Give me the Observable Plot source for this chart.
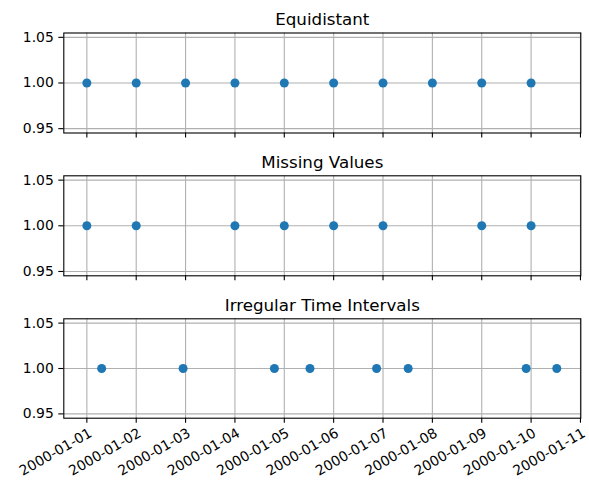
<!DOCTYPE html>
<html>
<head>
<meta charset="utf-8">
<script src="https://cdn.jsdelivr.net/npm/d3@7"></script>
<script src="https://cdn.jsdelivr.net/npm/@observablehq/plot@0.6"></script>
<style>
  html, body { margin: 0; padding: 0; background: white; }
  #chart svg { display: block; }
</style>
</head>
<body>
<div id="chart"></div>
<script>
// ---- data ----
const titles = ["Equidistant", "Missing Values", "Irregular Time Intervals"];

const equidistantDates = ["2000-01-01", "2000-01-02", "2000-01-03", "2000-01-04", "2000-01-05",
                          "2000-01-06", "2000-01-07", "2000-01-08", "2000-01-09", "2000-01-10"];
const equidistantValues = [1, 1, 1, 1, 1, 1, 1, 1, 1, 1];

const missingDates = ["2000-01-01", "2000-01-02", "2000-01-03", "2000-01-04", "2000-01-05",
                      "2000-01-06", "2000-01-07", "2000-01-08", "2000-01-09", "2000-01-10"];
const missingValues = [1, 1, null, 1, 1, 1, 1, null, 1, 1];

const irregularDates = ["2000-01-01T07:12", "2000-01-02T22:48", "2000-01-04T19:12", "2000-01-05T12:29",
                        "2000-01-06T20:53", "2000-01-07T12:14", "2000-01-09T21:36", "2000-01-10T12:29"];
const irregularValues = [1, 1, 1, 1, 1, 1, 1, 1];

const xTickLabels = ["2000-01-01", "2000-01-02", "2000-01-03", "2000-01-04", "2000-01-05", "2000-01-06",
                     "2000-01-07", "2000-01-08", "2000-01-09", "2000-01-10", "2000-01-11"];
const yTicks = [0.95, 1.00, 1.05];

// ---- helpers ----
const parse = s => new Date((s.length === 10 ? s + "T00:00" : s) + ":00Z");
const DAY = 864e5;
const xTicks = xTickLabels.map(parse);
const xDomain = [new Date(+parse("2000-01-01") - 0.467 * DAY), new Date(+parse("2000-01-11") + 0.007 * DAY)];
const yDomain = [0.94525, 1.05475];
const fmtDate = d3.utcFormat("%Y-%m-%d");

function panel({dates, values, title, height, marginTop, marginBottom, labels}) {
  const data = dates.map((d, i) => ({date: parse(d), value: values[i]}));
  return Plot.plot({
    width: 589,
    height,
    marginLeft: 63.3,
    marginRight: 8.7,
    marginTop,
    marginBottom,
    style: {fontFamily: "'DejaVu Sans', sans-serif", fontSize: "13.9px", color: "black", background: "white", overflow: "visible"},
    x: {type: "utc", domain: xDomain, axis: null},
    y: {domain: yDomain, axis: null},
    marks: [
      Plot.gridX(xTicks, {stroke: "#b0b0b0", strokeOpacity: 1, strokeWidth: 1.1}),
      Plot.gridY(yTicks, {stroke: "#b0b0b0", strokeOpacity: 1, strokeWidth: 1.1}),
      Plot.axisX(xTicks, {tickSize: 5, tickFormat: () => "", label: null, strokeWidth: 1.1}),
      Plot.axisY(yTicks, {tickSize: 5, tickPadding: 5, tickFormat: d3.format(".2f"), label: null, fontSize: 13.9, strokeWidth: 1.1}),
      Plot.dot(data, {x: "date", y: "value", r: 4.5, fill: "#1f77b4", stroke: null}),
      Plot.frame({stroke: "black", strokeWidth: 1.1}),
      Plot.text([title], {frameAnchor: "top", dy: -8, lineAnchor: "bottom", fontSize: 16.7, fill: "black"}),
      labels ? Plot.text(xTicks, {x: d => d, frameAnchor: "bottom", dy: 9, dx: 1, rotate: -30, textAnchor: "end", lineAnchor: "top", text: d => fmtDate(d), fontSize: 13.9, fill: "black"}) : null
    ]
  });
}

const chart = document.getElementById("chart");
chart.append(panel({dates: equidistantDates, values: equidistantValues, title: titles[0], height: 150, marginTop: 32.5, marginBottom: 17.5, labels: false}));
chart.append(panel({dates: missingDates, values: missingValues, title: titles[1], height: 143, marginTop: 25.3, marginBottom: 17.7, labels: false}));
chart.append(panel({dates: irregularDates, values: irregularValues, title: titles[2], height: 197, marginTop: 25.3, marginBottom: 72.3, labels: true}));
</script>
</body>
</html>
